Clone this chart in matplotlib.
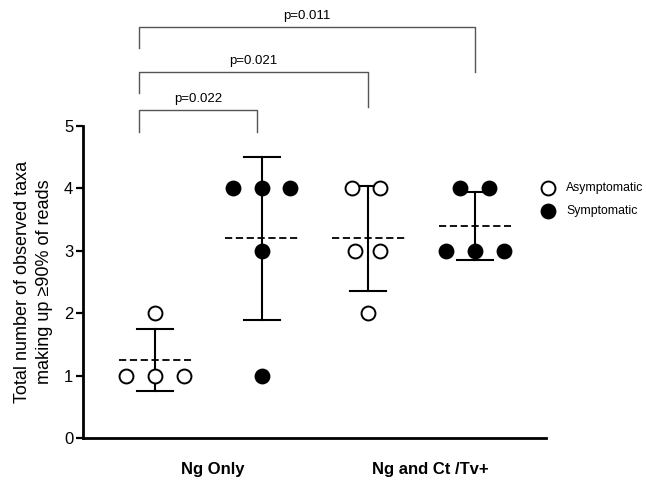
import numpy as np
import matplotlib
matplotlib.use("Agg")
import matplotlib.pyplot as plt
from matplotlib.lines import Line2D

plt.rcParams['font.family'] = ['Liberation Sans', 'DejaVu Sans']

# Observed taxa per sample for each group
ng_only_asym = [1, 1, 1, 2]
ng_only_sym = [4, 4, 4, 3, 1]
ng_ct_asym = [4, 4, 3, 3, 2]
ng_ct_sym = [4, 4, 3, 3, 3]

groups = [ng_only_asym, ng_only_sym, ng_ct_asym, ng_ct_sym]
filled = [False, True, False, True]
category_labels = ["Ng Only", "Ng and Ct /Tv+"]
legend_labels = ["Asymptomatic", "Symptomatic"]
p_labels = ["p=0.022", "p=0.021", "p=0.011"]

# horizontal scatter offsets so points do not overlap
jitter = [
    [-0.27, 0.0, 0.27, 0.0],
    [-0.27, 0.0, 0.27, 0.0, 0.0],
    [-0.15, 0.11, -0.125, 0.11, 0.0],
    [-0.14, 0.13, -0.27, 0.0, 0.27],
]

fig = plt.figure(figsize=(6.46, 4.82), dpi=100)
ax = fig.add_axes([0.1285, 0.0913, 0.845 - 0.1285, 0.6473])

positions = [1, 2, 3, 4]
marker_kw = dict(linestyle='none', marker='o', markersize=10,
                 markeredgewidth=1.4, markeredgecolor='black')
for pos, vals, fill, jit in zip(positions, groups, filled, jitter):
    vals = np.asarray(vals, dtype=float)
    m = vals.mean()
    sd = vals.std(ddof=1)
    # error bar (mean ± SD)
    ax.plot([pos, pos], [m - sd, m + sd], color='black', lw=1.5, zorder=2)
    for yy in (m - sd, m + sd):
        ax.plot([pos - 0.17, pos + 0.17], [yy, yy], color='black', lw=1.5, zorder=2)
    # dashed mean line
    ax.plot([pos - 0.34, pos + 0.34], [m, m], color='black', lw=1.3,
            linestyle=(0, (4, 2)), zorder=2)
    xs = pos + np.asarray(jit)
    ax.plot(xs, vals, markerfacecolor='black' if fill else 'white', zorder=3,
            clip_on=False, **marker_kw)

ax.set_xlim(0.325, 4.665)
ax.set_ylim(0, 5)
ax.set_yticks([0, 1, 2, 3, 4, 5])
ax.tick_params(axis='y', labelsize=12, width=1.6, length=5, direction='out', pad=2)
ax.set_xticks([])
for xpos, lab in zip([1.54, 3.58], category_labels):
    ax.text(xpos, -0.51, lab, ha='center', va='center', fontsize=12,
            fontweight='bold', clip_on=False)
for s in ('top', 'right'):
    ax.spines[s].set_visible(False)
for s in ('left', 'bottom'):
    ax.spines[s].set_linewidth(2)

ax.set_ylabel("Total number of observed taxa\nmaking up \u226590% of reads", fontsize=13,
              labelpad=8, linespacing=1.35)

# significance brackets: left x, right x, bar height, left leg end, right leg end
brackets = [
    (0.85, 1.96, 5.26, 4.90, 4.90),
    (0.85, 3.00, 5.87, 5.53, 5.30),
    (0.85, 4.00, 6.59, 6.25, 5.87),
]
text_y = [5.43, 6.04, 6.76]
for (x0, x1, ytop, yl, yr), lab, ty in zip(brackets, p_labels, text_y):
    ax.plot([x0, x0, x1, x1], [yl, ytop, ytop, yr], color='#555555', lw=1.0,
            clip_on=False)
    ax.text((x0 + x1) / 2, ty, lab, ha='center', va='center', fontsize=9.5,
            clip_on=False)

# legend drawn in figure coordinates
W, H = 646.0, 482.0
for (py, lab, fill) in [(188, legend_labels[0], False), (211, legend_labels[1], True)]:
    fig.add_artist(Line2D([548 / W], [1 - py / H], transform=fig.transFigure,
                          markerfacecolor='black' if fill else 'white', **marker_kw))
    fig.text(566 / W, 1 - py / H, lab, ha='left', va='center', fontsize=8.8)

fig.savefig("out.png", dpi=100)
